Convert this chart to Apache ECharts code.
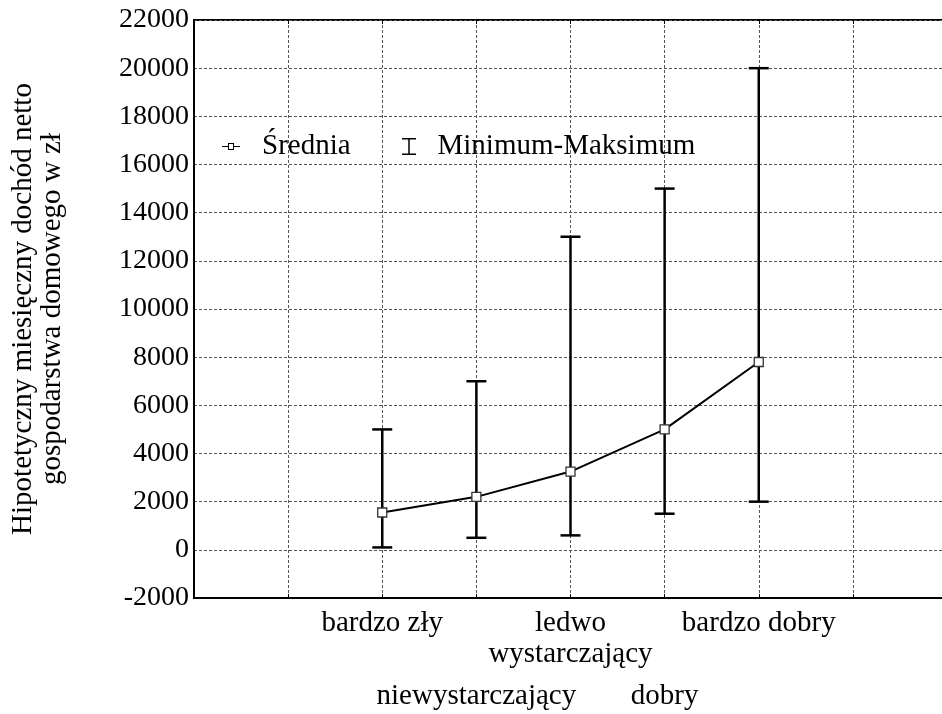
<!DOCTYPE html>
<html>
<head>
<meta charset="utf-8">
<script src="https://cdn.jsdelivr.net/npm/echarts@6/dist/echarts.min.js"></script>
<style>
  html, body { margin: 0; padding: 0; background: #fff; overflow: hidden; width: 942px; height: 714px; }
  /* the plot frame continues a few pixels past the right edge of the page */
  #chart { width: 950px; height: 714px; }
</style>
</head>
<body>
<div id="chart"></div>
<script>
// Subjective assessment of household situation
const categories = ['bardzo zły', 'niewystarczający', 'ledwo\nwystarczający', 'dobry', 'bardzo dobry'];
// Mean hypothetical monthly net household income (zł)
const means = [1550, 2200, 3250, 5000, 7800];
// Minimum and maximum declared values (zł)
const minima = [100, 500, 600, 1500, 2000];
const maxima = [5000, 7000, 13000, 15000, 20000];
// Value axis ticks
const yMin = -2000, yMax = 22000, yStep = 2000;

const SERIF = 'Liberation Serif';
const EMPTY_SLOTS = 2; // blank category slots on each side of the data

const axisCats = [];
for (let i = 0; i < EMPTY_SLOTS; i++) axisCats.push('');
categories.forEach(c => axisCats.push(c));
for (let i = 0; i < EMPTY_SLOTS; i++) axisCats.push('');

const meanData = means.map((v, i) => [i + EMPTY_SLOTS, v]);
const rangeData = categories.map((c, i) => [i + EMPTY_SLOTS, minima[i], maxima[i]]);

const gridLine = { show: true, lineStyle: { color: '#555', width: 1, type: [3, 2] } };

// Staggered labels: even entries on the first row, odd entries on the second
const rowLabel = (row) => (value, index) => {
  const k = index - EMPTY_SLOTS;
  if (k < 0 || k >= categories.length) return '';
  return (k % 2 === row) ? value : '';
};

const chart = echarts.init(document.getElementById('chart'), null, { renderer: 'canvas' });

chart.setOption({
  animation: false,
  backgroundColor: '#fff',
  grid: {
    left: 194, right: 2, top: 20, bottom: 116,
    show: true, borderColor: '#000', borderWidth: 2, backgroundColor: 'transparent'
  },
  legend: [
    {
      left: 217, top: 127,
      itemWidth: 18, itemHeight: 7,
      data: [{
        name: 'Średnia',
        icon: 'path://M0,3H6V4H0Z M12,3H18V4H12Z M6,0H12V7H6Z M7,1V6H11V1Z',
        itemStyle: { color: '#000', borderWidth: 0 }
      }],
      textStyle: { fontFamily: SERIF, fontSize: 29, color: '#000', padding: [0, 0, 0, 17] },
      selectedMode: false
    },
    {
      left: 397, top: 127,
      itemWidth: 15, itemHeight: 17,
      data: [{
        name: 'Minimum-Maksimum',
        icon: 'path://M0,0H14V1.5H7.75V15.5H14V17H0V15.5H6.25V1.5H0Z',
        itemStyle: { color: '#000', borderWidth: 0 }
      }],
      textStyle: { fontFamily: SERIF, fontSize: 29, color: '#000', padding: [0, 0, 0, 16] },
      selectedMode: false
    }
  ],
  xAxis: [
    {
      type: 'category', data: axisCats, boundaryGap: false, position: 'bottom',
      axisLine: { show: true, onZero: false, lineStyle: { color: '#000', width: 2 } },
      axisTick: { show: true, inside: true, length: 4, interval: 0, lineStyle: { color: '#000' } },
      axisLabel: {
        interval: 0, margin: 10, color: '#000', fontFamily: SERIF, fontSize: 29, lineHeight: 31,
        formatter: rowLabel(0)
      },
      splitLine: Object.assign({ interval: 0 }, gridLine)
    },
    {
      type: 'category', data: axisCats, boundaryGap: false, position: 'bottom', offset: 73,
      axisLine: { show: false, onZero: false }, axisTick: { show: false }, splitLine: { show: false },
      axisLabel: {
        interval: 0, margin: 10, color: '#000', fontFamily: SERIF, fontSize: 29, lineHeight: 31,
        formatter: rowLabel(1)
      }
    },
    {
      type: 'category', data: axisCats, boundaryGap: false, position: 'top',
      axisLine: { show: false, onZero: false }, splitLine: { show: false },
      axisTick: { show: true, inside: true, length: 4, interval: 0, lineStyle: { color: '#000' } },
      axisLabel: { show: false }
    }
  ],
  yAxis: {
    type: 'value', min: yMin, max: yMax, interval: yStep,
    axisLine: { show: true, lineStyle: { color: '#000', width: 2 } },
    axisTick: { show: false },
    axisLabel: {
      margin: 5, color: '#000', fontFamily: SERIF, fontSize: 28,
      formatter: (v) => String(v)
    },
    splitLine: gridLine,
    name: 'Hipotetyczny miesięczny dochód netto\ngospodarstwa domowego w zł',
    nameLocation: 'middle', nameGap: 127,
    nameTextStyle: { fontFamily: SERIF, fontSize: 29, lineHeight: 29, color: '#000', align: 'center' }
  },
  series: [
    {
      name: 'Minimum-Maksimum',
      type: 'custom',
      z: 2,
      itemStyle: { color: '#000' },
      data: rangeData,
      encode: { x: 0, y: [1, 2] },
      renderItem: function (params, api) {
        const lo = api.coord([api.value(0), api.value(1)]);
        const hi = api.coord([api.value(0), api.value(2)]);
        const half = 10;
        const st = { stroke: '#000', lineWidth: 2.5 };
        return {
          type: 'group',
          children: [
            { type: 'line', shape: { x1: lo[0], y1: lo[1], x2: hi[0], y2: hi[1] }, style: st },
            { type: 'line', shape: { x1: lo[0] - half, y1: lo[1], x2: lo[0] + half, y2: lo[1] }, style: st },
            { type: 'line', shape: { x1: hi[0] - half, y1: hi[1], x2: hi[0] + half, y2: hi[1] }, style: st }
          ]
        };
      }
    },
    {
      name: 'Średnia',
      type: 'line',
      z: 5,
      data: meanData,
      symbol: 'rect',
      symbolSize: 9,
      lineStyle: { color: '#000', width: 2 },
      itemStyle: { color: '#fff', borderColor: '#333', borderWidth: 1.3 }
    }
  ]
});
</script>
</body>
</html>
